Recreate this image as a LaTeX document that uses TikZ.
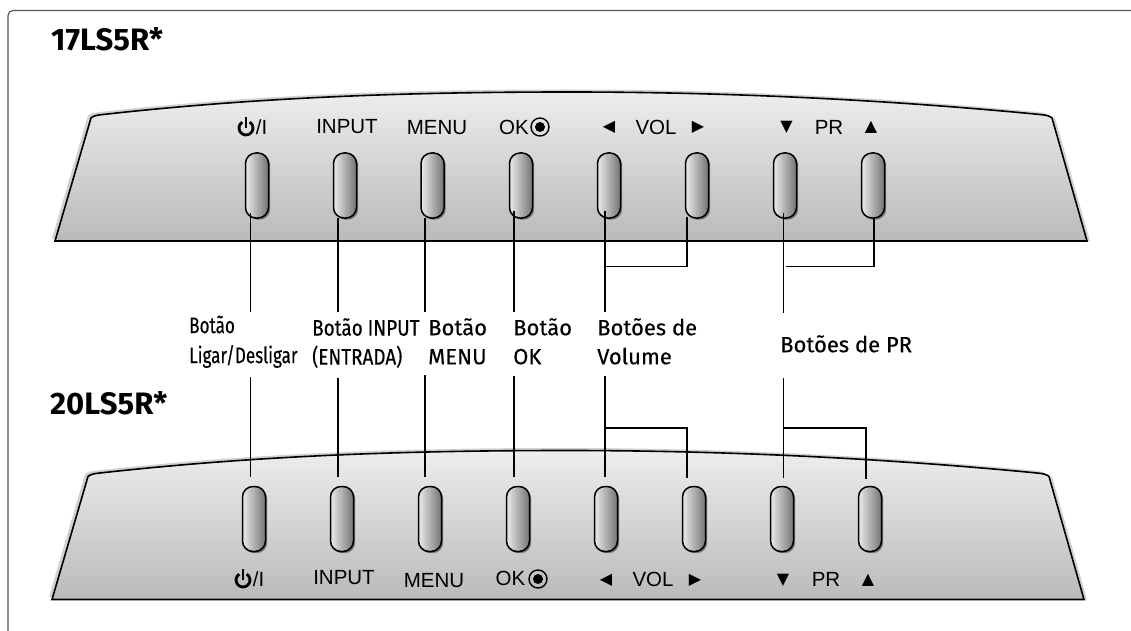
\documentclass[tikz,border=0pt]{standalone}
\usepackage{fontspec}
\setmainfont{Liberation Sans}
\newfontfamily\calloutfont[FakeBold=0.25]{Fira Sans}
\newfontfamily\calloutnarrow[FakeStretch=0.84,FakeBold=0.25]{Fira Sans}
\newfontfamily\calloutthin[FakeStretch=0.76,FakeBold=0.25]{Fira Sans}
\newfontfamily\modelfont{Fira Sans}
\newfontfamily\glyphfont{DejaVu Sans}
\usetikzlibrary{shadows}
\newcommand{\panelpath}{(55,241) -- (91,118) .. controls (93,116) and (97,115) .. (103,114.5)
  .. controls (260,97) and (410,92) .. (570,92)
  .. controls (730,92) and (890,100) .. (1040,114.5)
  .. controls (1046,115) and (1050,116) .. (1052,118) -- (1087,241) -- cycle}

\begin{document}
\begin{tikzpicture}[x=1pt,y=-1pt]
  \tikzstyle{frame}=[draw=black!65,line width=1.2pt,rounded corners=5pt]
  \tikzstyle{panel}=[draw=black,line width=1.6pt,top color=black!7,bottom color=black!27]
  \tikzstyle{panelglow}=[fill=black!18,draw=none]
  \tikzstyle{tvbutton}=[rectangle,rounded corners=10.5pt,draw=black,line width=1.5pt,
    minimum width=23pt,minimum height=65pt,inner sep=0pt,
    left color=black!8,right color=black!55,
    drop shadow={shadow xshift=1.7pt,shadow yshift=-1.7pt,fill=black!55,opacity=1}]
  \tikzstyle{leader}=[draw=black,line width=1.1pt]
  \tikzstyle{keytext}=[inner sep=0pt,font=\fontsize{20.5}{24}\selectfont]
  \tikzstyle{keyglyph}=[inner sep=0pt,font=\glyphfont\fontsize{16}{18}\selectfont]
  \tikzstyle{okring}=[circle,draw=black,line width=1.4pt,minimum size=18pt,inner sep=0pt]
  \tikzstyle{model}=[anchor=west,inner sep=0pt,font=\modelfont\bfseries\fontsize{31}{34}\selectfont]
  \tikzstyle{callout}=[anchor=north west,inner sep=0pt,align=left,
    font=\calloutfont\fontsize{22}{29}\selectfont]
  \tikzstyle{calloutn}=[anchor=north west,inner sep=0pt,align=left,
    font=\calloutnarrow\fontsize{22.5}{29}\selectfont]
  \tikzstyle{callouts}=[anchor=north west,inner sep=0pt,align=left,
    font=\calloutthin\fontsize{22.5}{30}\selectfont]

  \useasboundingbox (0,0) rectangle (1131,631);
  \draw[frame] (1131,10.5) -- (8,10.5) -- (8,631);

  \node[model] (model_a) at (51,39)  {17LS5R*};
  \node[model] (model_b) at (50,403) {20LS5R*};

  % the two front panels
  \foreach \dx/\dy in {0/0,-3/358.5} {
    \begin{scope}[shift={(\dx,\dy)}]
      \fill[panelglow,shift={(-3,-2.5)}] \panelpath;
      \fill[panelglow,shift={(3,0)}] (1052,118) -- (1087,241) -- (1084,241) -- (1050,118) -- cycle;
      \shade[panel] \panelpath;
    \end{scope}
  }

  % buttons
  \foreach \i/\xa/\xb in {1/257/254,2/345/342,3/432.5/430,4/521/518,5/609/606,6/697/694,7/785/782,8/873/870} {
    \node[tvbutton] (a_\i) at (\xa,185.5) {};
    \node[tvbutton] (b_\i) at (\xb,519) {};
  }

  % key names on the upper panel
  \node[keytext] (a_power) at (261.5,127) {/I};
  \node[keytext] (a_input) at (347,127) {INPUT};
  \node[keytext] (a_menu)  at (437,128) {MENU};
  \node[keytext] (a_ok)    at (514,127) {OK};
  \node[okring]  (a_ring)  at (540,127) {};
  \node[keyglyph] (a_left)  at (609,127) {◀};
  \node[keytext]  (a_vol)   at (656,127) {VOL};
  \node[keyglyph] (a_right) at (698,127) {▶};
  \node[keyglyph] (a_down)  at (786.5,127) {▼};
  \node[keytext]  (a_pr)    at (829,127) {PR};
  \node[keyglyph] (a_up)    at (871,127) {▲};

  % key names on the lower panel
  \node[keytext] (b_power) at (258.5,579) {/I};
  \node[keytext] (b_input) at (344,578) {INPUT};
  \node[keytext] (b_menu)  at (434,581) {MENU};
  \node[keytext] (b_ok)    at (510.5,578) {OK};
  \node[okring]  (b_ring)  at (538,579) {};
  \node[keyglyph] (b_left)  at (606,580) {◀};
  \node[keytext]  (b_vol)   at (653,579) {VOL};
  \node[keyglyph] (b_right) at (695,580) {▶};
  \node[keyglyph] (b_down)  at (783,580) {▼};
  \node[keytext]  (b_pr)    at (826,579) {PR};
  \node[keyglyph] (b_up)    at (868,580) {▲};

  \fill (a_ring.center) circle (5);
  \fill (b_ring.center) circle (5);

  % power signs
  \foreach \px/\py in {246/128,243/580} {
    \begin{scope}[shift={(\px,\py)},x=1pt,y=1pt,line width=2.8pt]
      \draw (58:7) arc[start angle=58,end angle=-238,radius=7];
      \draw (0,0) -- (0,11);
    \end{scope}
  }

  % callouts
  \node[callouts] (txt_power) at (189,315.5) {Botão\\Ligar/Desligar};
  \node[calloutn] (txt_input) at (312,318) {Botão INPUT\\(ENTRADA)};
  \node[callout]  (txt_menu)  at (428,318) {Botão\\MENU};
  \node[callout]  (txt_ok)    at (513,318) {Botão\\OK};
  \node[callout]  (txt_vol)   at (597,318) {Botões de\\Volume};
  \node[callout]  (txt_pr)    at (780,335) {Botões de PR};

  % free ends of the leaders, above and below the callouts
  \foreach \i/\xt/\yt/\yu in {1/250.7/312/377,2/338/312/378,3/425/312/375,4/514/312/376,5/605/312/376,7/783.6/313/378} {
    \coordinate (top_\i) at (\xt,\yt);
    \coordinate (bot_\i) at (\xt,\yu);
  }
  \coordinate (join_vol)  at (605,266.5);
  \coordinate (join_pr)   at (786,266.5);
  \coordinate (drop_vol)  at (605,428);
  \coordinate (drop_pr)   at (783.6,428);

  \path[leader]
  ([xshift=-6.3pt,yshift=6pt]a_1.south) edge (top_1)
  ([xshift=-7pt,yshift=0.5pt]a_2.south) edge (top_2)
  ([xshift=-7.5pt,yshift=1pt]a_3.south) edge (top_3)
  ([xshift=-7pt,yshift=8pt]a_4.south)   edge (top_4)
  ([xshift=-4pt,yshift=8pt]a_5.south)   edge (top_5)
  ([xshift=-1.4pt,yshift=6pt]a_7.south) edge (top_7)
  ;
  \draw[leader] ([xshift=-10pt,yshift=2pt]a_6.south) |- (join_vol);
  \draw[leader] ([xshift=1pt,yshift=2pt]a_8.south) |- (join_pr);

  \path[leader]
  (bot_1) edge ([xshift=-3.3pt,yshift=9pt]b_1.north)
  (bot_2) edge ([xshift=-4pt,yshift=9pt]b_2.north)
  (bot_3) edge ([xshift=-5pt,yshift=9pt]b_3.north)
  (bot_4) edge ([xshift=-4pt,yshift=9pt]b_4.north)
  (bot_5) edge ([xshift=-1pt,yshift=9pt]b_5.north)
  (bot_7) edge ([xshift=1.6pt,yshift=8pt]b_7.north)
  ;
  \draw[leader] ([xshift=-7pt,yshift=8pt]b_6.north) |- (drop_vol);
  \draw[leader] ([xshift=-4pt,yshift=7pt]b_8.north) |- (drop_pr);
\end{tikzpicture}
\end{document}
